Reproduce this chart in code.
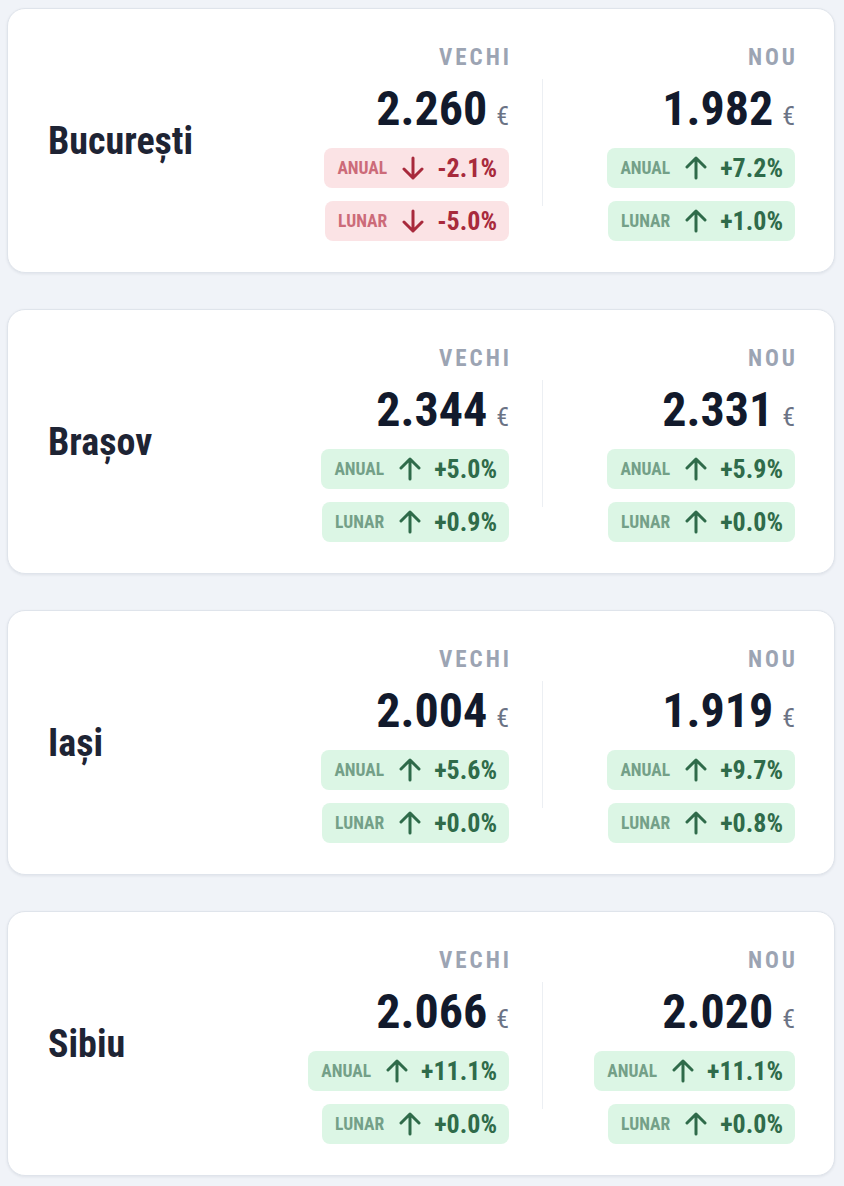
<!DOCTYPE html>
<html lang="ro">
  <head>
    <meta charset="UTF-8" />
    <title>Prețuri VECHI / NOU</title>
    <script src="https://cdn.jsdelivr.net/npm/chart.js@4.4.1/dist/chart.umd.min.js"></script>
    <style>
      html, body { margin: 0; padding: 0; background: #f0f3f8; }
      body { width: 844px; height: 1186px; position: relative; overflow: hidden;
             font-family: "Roboto Condensed", Roboto, sans-serif; }
      .card { position: absolute; left: 7px; width: 826px; height: 263px;
              background: #fff; border: 1px solid #dfe4eb; border-radius: 18px;
              box-shadow: 0 1px 3px rgba(30, 40, 60, 0.08); }
      .city { position: absolute; left: 40px; top: 110px; line-height: 44px;
              font-size: 38px; font-weight: 700; color: #1e2434; }
      .col { position: absolute; width: 240px; text-align: right; top: 0; height: 263px; }
      .col.old { right: 325px; }
      .col.new { right: 39px; }
      .head { position: absolute; right: 0; top: 37px; font-size: 23px; line-height: 23px;
              font-weight: 700; color: #9ca4b3; letter-spacing: 3px; margin-right: -3px; }
      .price { position: absolute; right: 0; top: 76px; line-height: 47px; white-space: nowrap; }
      .price .num { font-size: 48px; font-weight: 700; color: #121a2c; }
      .price .eur { font-size: 26px; color: #6b7385; margin-left: 9px; }
      .badge { position: absolute; right: 0; height: 40px; border-radius: 8px;
               display: flex; align-items: center; padding: 0 12px 0 13px; white-space: nowrap; }
      .badge .lab { font-size: 17.5px; font-weight: 700; }
      .badge svg { margin: 0 12px 0 14px; }
      .badge .val { font-size: 26px; font-weight: 700; }
      .badge.up { background: #dcf6e5; }
      .badge.up .lab { color: #74a088; }
      .badge.up .val { color: #2f6b4a; }
      .badge.down { background: #fbe3e5; }
      .badge.down .lab { color: #cc6b79; }
      .badge.down .val { color: #a82a3c; }
      .divider { position: absolute; left: 534px; top: 70px; width: 1px; height: 127px; background: #eceff3; }
    </style>
  </head>
  <body>
    <div id="root"></div>
    <script>
    // values
    const cities = ['București', 'Brașov', 'Iași', 'Sibiu'];
    const columnLabels = ['VECHI', 'NOU'];
    const badgeLabels = ['ANUAL', 'LUNAR'];
    const oldPrice = [2260, 2344, 2004, 2066];
    const newPrice = [1982, 2331, 1919, 2020];
    const oldYearly = [-2.1, 5.0, 5.6, 11.1];
    const oldMonthly = [-5.0, 0.9, 0.0, 0.0];
    const newYearly = [7.2, 5.9, 9.7, 11.1];
    const newMonthly = [1.0, 0.0, 0.8, 0.0];

    function fmtPrice(v) {
      return String(v).replace(/\B(?=(\d{3})+(?!\d))/g, '.');
    }
    function fmtPct(v) {
      return (v < 0 ? '-' : '+') + Math.abs(v).toFixed(1) + '%';
    }
    function arrow(up, color) {
      const d = up ? 'M12 22 V2 M3 11 L12 2 L21 11' : 'M12 2 V22 M3 13 L12 22 L21 13';
      return '<svg width="24" height="24" viewBox="0 0 24 24"><path d="' + d +
        '" fill="none" stroke="' + color + '" stroke-width="3" stroke-linecap="round" stroke-linejoin="round"/></svg>';
    }
    function badge(label, v, top) {
      const up = v >= 0;
      const col = up ? '#2f6b4a' : '#a82a3c';
      return '<div class="badge ' + (up ? 'up' : 'down') + '" style="top:' + top + 'px">' +
        '<span class="lab">' + label + '</span>' + arrow(up, col) +
        '<span class="val">' + fmtPct(v) + '</span></div>';
    }
    function column(cls, head, price, yearly, monthly) {
      return '<div class="col ' + cls + '">' +
        '<div class="head">' + head + '</div>' +
        '<div class="price"><span class="num">' + fmtPrice(price) + '</span><span class="eur">€</span></div>' +
        badge(badgeLabels[0], yearly, 139) + badge(badgeLabels[1], monthly, 192) + '</div>';
    }

    const root = document.getElementById('root');
    let html = '';
    cities.forEach((city, i) => {
      html += '<div class="card" style="top:' + (8 + i * 301) + 'px">' +
        '<div class="city">' + city + '</div>' +
        column('old', columnLabels[0], oldPrice[i], oldYearly[i], oldMonthly[i]) +
        '<div class="divider"></div>' +
        column('new', columnLabels[1], newPrice[i], newYearly[i], newMonthly[i]) +
        '</div>';
    });
    root.innerHTML = html;
    </script>
  </body>
</html>
